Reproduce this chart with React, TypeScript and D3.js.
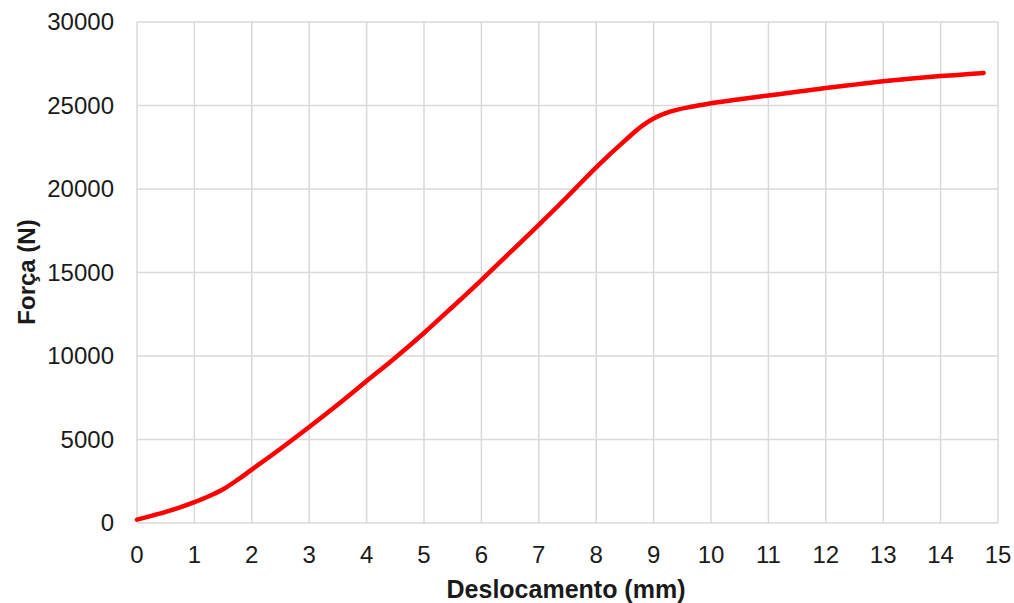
import React from 'react'
import * as d3 from 'd3'

// deslocamento (mm) x força (N)
const deslocamento = [0, 0.25, 0.5, 0.75, 1, 1.25, 1.5, 1.75, 2, 2.5, 3, 3.5, 4, 4.5, 5, 5.5, 6, 6.5, 7, 7.5, 8, 8.5, 8.8, 9, 9.2, 9.4, 9.6, 9.8, 10, 10.5, 11, 11.5, 12, 12.5, 13, 13.5, 14, 14.5, 14.75]
const forca = [200, 430, 670, 940, 1250, 1600, 2020, 2580, 3200, 4450, 5750, 7100, 8500, 9900, 11380, 12950, 14550, 16200, 17850, 19550, 21300, 22900, 23780, 24220, 24530, 24740, 24890, 25010, 25130, 25380, 25600, 25820, 26050, 26250, 26450, 26620, 26760, 26880, 26950]
const xTicks = d3.range(0, 16)
const yTicks = [0, 5000, 10000, 15000, 20000, 25000, 30000]

const W = 1014
const H = 603
const m = { left: 137, right: 16, top: 22, bottom: 80 }

export default function App() {
  const x = d3.scaleLinear().domain([0, 15]).range([m.left, W - m.right])
  const y = d3.scaleLinear().domain([0, 30000]).range([H - m.bottom, m.top])
  const pts = deslocamento.map((d, i) => [d, forca[i]] as [number, number])
  const line = d3
    .line<[number, number]>()
    .x(d => x(d[0]))
    .y(d => y(d[1]))
    .curve(d3.curveMonotoneX)

  const font = '"Liberation Sans", Arial, sans-serif'
  return (
    <svg width={W} height={H} style={{ position: 'absolute', left: 0, top: 0 }}>
      <rect width={W} height={H} fill="#fff" />
      {xTicks.map(t => (
        <line key={'gx' + t} x1={x(t)} x2={x(t)} y1={y(0)} y2={y(30000)} stroke="#d9d9d9" strokeWidth={1.5} />
      ))}
      {yTicks.map(t => (
        <line key={'gy' + t} x1={x(0)} x2={x(15)} y1={y(t)} y2={y(t)} stroke="#d9d9d9" strokeWidth={1.5} />
      ))}
      {xTicks.map(t => (
        <text key={'tx' + t} x={x(t)} y={y(0) + 40} textAnchor="middle" fontFamily={font} fontSize={24} fill="#1a1a1a">
          {t}
        </text>
      ))}
      {yTicks.map(t => (
        <text key={'ty' + t} x={x(0) - 23} y={y(t) + 8} textAnchor="end" fontFamily={font} fontSize={24} fill="#1a1a1a">
          {t}
        </text>
      ))}
      <path d={line(pts) || ''} fill="none" stroke="#ff0000" strokeWidth={4.5} strokeLinecap="round" />
      <text x={566} y={598} textAnchor="middle" fontFamily={font} fontSize={25} fontWeight="bold" fill="#1a1a1a">
        Deslocamento (mm)
      </text>
      <text transform={`translate(35,${272}) rotate(-90)`} textAnchor="middle" fontFamily={font} fontSize={24} fontWeight="bold" fill="#1a1a1a">
        Força (N)
      </text>
    </svg>
  )
}
